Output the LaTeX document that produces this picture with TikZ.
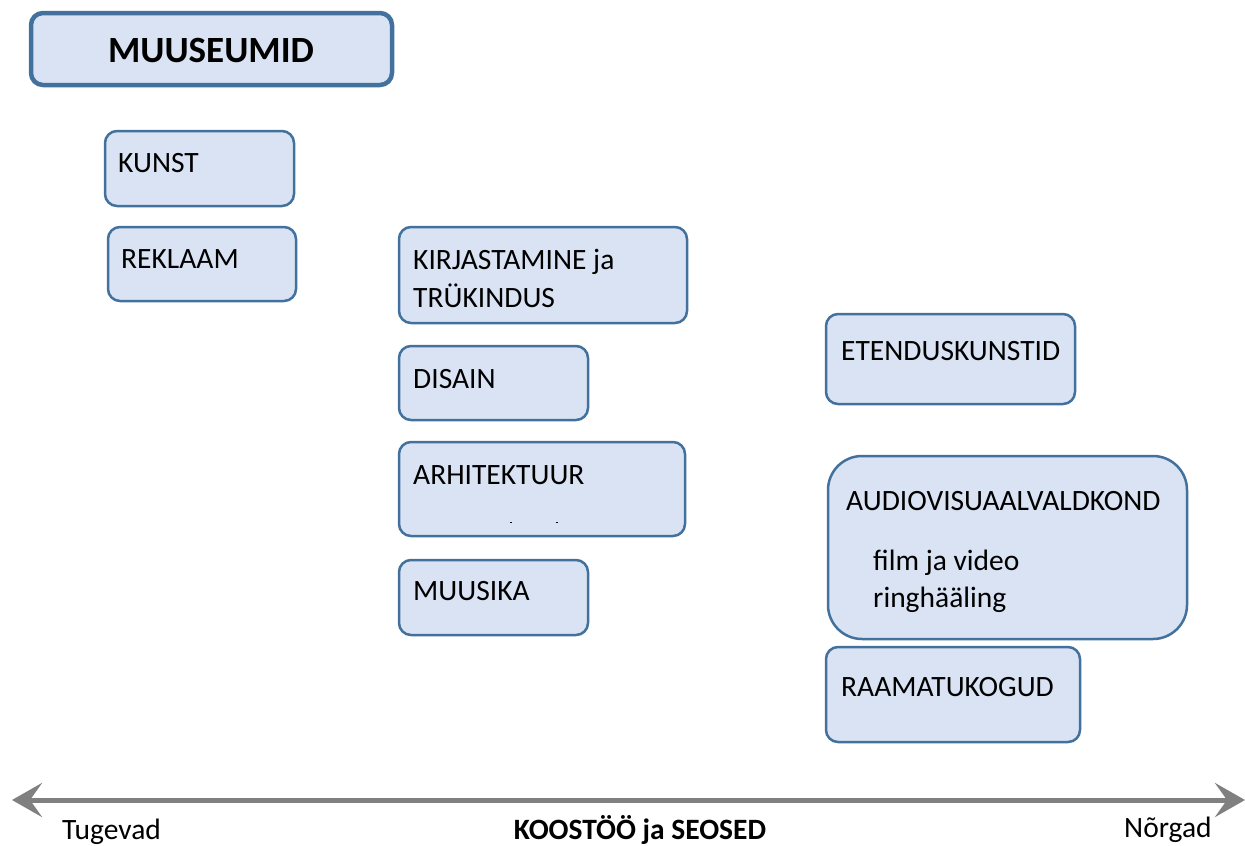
\documentclass[tikz,border=0pt]{standalone}
\usepackage{fontspec}
\setmainfont{Carlito}
\usetikzlibrary{arrows.meta}
\definecolor{boxfill}{HTML}{DAE3F3}
\definecolor{boxline}{HTML}{41719C}
\definecolor{arrowgray}{HTML}{808080}
\begin{document}
\begin{tikzpicture}[x=1pt,y=-1pt,
  box/.style={draw=boxline,fill=boxfill,line width=2.5pt,rounded corners=12pt,anchor=north west,inner sep=0pt,outer sep=0pt},
  lbl/.style={anchor=base west,inner sep=0pt,font=\fontsize{29.5}{35}\selectfont},
]
\useasboundingbox (0,0) rectangle (1245,846);
% title box
\node[box,line width=4.5pt,minimum width=361pt,minimum height=72pt] (mus) at (31,13) {};
\node[anchor=base,inner sep=0pt,font=\fontsize{37}{44}\selectfont\bfseries] (must) at (211,62) {MUUSEUMID};
% column 1
\node[box,minimum width=189pt,minimum height=75pt] (kunst) at (105,131) {};
\node[lbl] (kunstt) at (118,172) {KUNST};
\node[box,minimum width=188pt,minimum height=74pt] (rekl) at (108,227) {};
\node[lbl] (reklt) at (121,268) {REKLAAM};
% column 2
\node[box,minimum width=288pt,minimum height=96pt] (kirj) at (399,227) {};
\node[lbl] (kirjt1) at (413,269) {KIRJASTAMINE ja};
\node[lbl] (kirjt2) at (413,307) {TRÜKINDUS};
\node[box,minimum width=189pt,minimum height=74pt] (dis) at (399,346) {};
\node[lbl] (dist) at (413,388) {DISAIN};
\node[box,minimum width=286pt,minimum height=94pt] (arh) at (399,442) {};
\node[lbl] (arht) at (413,484) {ARHITEKTUUR};
\draw[line width=0.8pt] (arh.south west) ++(111,-14) coordinate (d1) -- ++(2,0);
\draw[line width=0.8pt] (arh.south west) ++(157,-14) coordinate (d2) -- ++(2,0);
\node[box,minimum width=189pt,minimum height=75pt] (muus) at (399,560) {};
\node[lbl] (muust) at (413,600) {MUUSIKA};
% column 3
\node[box,minimum width=249pt,minimum height=90pt] (eten) at (826,314) {};
\node[lbl] (etent) at (841,360) {ETENDUSKUNSTID};
\node[box,rounded corners=34pt,minimum width=359pt,minimum height=183pt] (av) at (828,456) {};
\node[lbl] (avt) at (846,510) {AUDIOVISUAALVALDKOND};
\node[lbl] (avt2) at (873,570) {film ja video};
\node[lbl] (avt3) at (873,607) {ringhääling};
\node[box,minimum width=254pt,minimum height=95pt] (raam) at (826,647) {};
\node[lbl] (raamt) at (841,696) {RAAMATUKOGUD};
% axis
\coordinate (L) at (12,800);
\coordinate (R) at (1245,800);
\draw[arrowgray,line width=5pt,{Stealth[length=30pt,width=34pt,inset=12pt]}-{Stealth[length=30pt,width=34pt,inset=12pt]}] (L) -- (R);
\node[lbl] (tug) at (62,839) {Tugevad};
\node[anchor=base,inner sep=0pt,font=\fontsize{29.5}{35}\selectfont\bfseries] (koos) at (640,839) {KOOSTÖÖ ja SEOSED};
\node[lbl] (nor) at (1124,837) {Nõrgad};
\end{tikzpicture}
\end{document}
